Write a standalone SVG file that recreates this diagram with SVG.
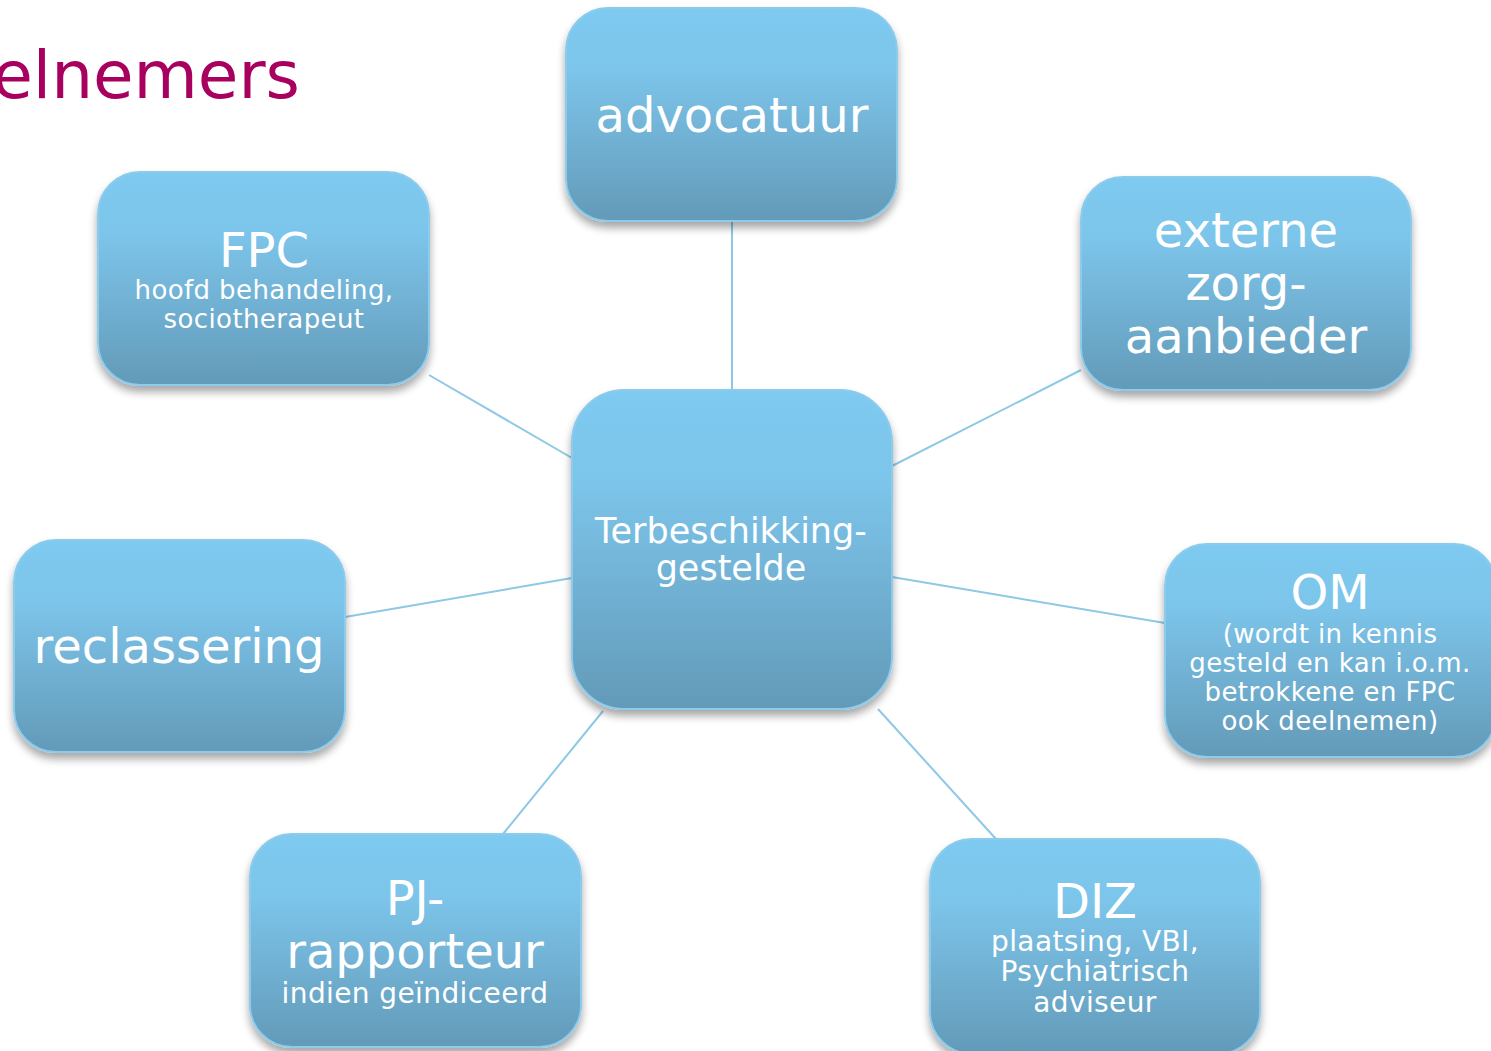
<svg xmlns="http://www.w3.org/2000/svg" width="1491" height="1051" viewBox="0 0 1491 1051">
<defs>
<linearGradient id="g" x1="0" y1="0" x2="0" y2="1">
<stop offset="0" stop-color="#7ecaf0"/>
<stop offset="0.3" stop-color="#7cc4ea"/>
<stop offset="1" stop-color="#639ab8"/>
</linearGradient>
<filter id="sh" x="-10%" y="-10%" width="120%" height="125%">
<feGaussianBlur in="SourceAlpha" stdDeviation="4"/>
<feOffset dx="0" dy="6" result="b"/>
<feComponentTransfer><feFuncA type="linear" slope="0.35"/></feComponentTransfer>
<feMerge><feMergeNode/><feMergeNode in="SourceGraphic"/></feMerge>
</filter>
</defs>
<style>
.box{fill:url(#g);stroke:#8ccbec;stroke-width:2;filter:url(#sh)}
.t{font-family:"DejaVu Sans","Liberation Sans",sans-serif;fill:#ffffff;text-anchor:middle}
.big{font-size:48px}
.mid{font-size:35px}
.sm{font-size:26px;letter-spacing:0.4px}
.sm2{font-size:28px;letter-spacing:0.4px}
.ln{stroke:#8ec8e6;stroke-width:2;fill:none}
</style>
<rect width="1491" height="1051" fill="#ffffff"/>
<text x="300" y="98" font-family="DejaVu Sans, sans-serif" font-size="66" fill="#a8005f" text-anchor="end">elnemers</text>
<g id="connectors">
<line class="ln" x1="732" y1="221" x2="732" y2="392"/>
<line class="ln" x1="429" y1="375" x2="572" y2="458"/>
<line class="ln" x1="1081" y1="370" x2="892" y2="466"/>
<line class="ln" x1="345" y1="617" x2="572" y2="578"/>
<line class="ln" x1="892" y1="577" x2="1165" y2="623"/>
<line class="ln" x1="503" y1="834" x2="603" y2="711"/>
<line class="ln" x1="878" y1="709" x2="996" y2="839"/>
</g>
<g id="advocatuur">
<rect class="box" x="566" y="8" width="331" height="213" rx="42"/>
<text class="t big" x="732" y="132">advocatuur</text>
</g>
<g id="fpc">
<rect class="box" x="98" y="172" width="331" height="213" rx="42"/>
<text class="t big" x="264" y="267">FPC</text>
<text class="t sm" x="264" y="299">hoofd behandeling,</text>
<text class="t sm" x="264" y="328">sociotherapeut</text>
</g>
<g id="externe">
<rect class="box" x="1081" y="177" width="330" height="213" rx="42"/>
<text class="t big" x="1246" y="247">externe</text>
<text class="t big" x="1246" y="300">zorg-</text>
<text class="t big" x="1246" y="353">aanbieder</text>
</g>
<g id="center">
<rect class="box" x="572" y="390" width="320" height="319" rx="52"/>
<text class="t mid" x="731" y="543">Terbeschikking-</text>
<text class="t mid" x="731" y="580">gestelde</text>
</g>
<g id="reclassering">
<rect class="box" x="14" y="540" width="331" height="212" rx="42"/>
<text class="t big" x="179" y="663">reclassering</text>
</g>
<g id="om">
<rect class="box" x="1165" y="544" width="331" height="213" rx="42"/>
<text class="t big" x="1330" y="609">OM</text>
<text class="t sm" x="1330" y="643">(wordt in kennis</text>
<text class="t sm" x="1330" y="672">gesteld en kan i.o.m.</text>
<text class="t sm" x="1330" y="701">betrokkene en FPC</text>
<text class="t sm" x="1330" y="730">ook deelnemen)</text>
</g>
<g id="pj">
<rect class="box" x="250" y="834" width="331" height="213" rx="42"/>
<text class="t big" x="415" y="915">PJ-</text>
<text class="t big" x="415" y="968">rapporteur</text>
<text class="t sm2" x="415" y="1003">indien geïndiceerd</text>
</g>
<g id="diz">
<rect class="box" x="930" y="839" width="330" height="215" rx="42"/>
<text class="t big" x="1095" y="918">DIZ</text>
<text class="t sm2" x="1095" y="951">plaatsing, VBI,</text>
<text class="t sm2" x="1095" y="981">Psychiatrisch</text>
<text class="t sm2" x="1095" y="1012">adviseur</text>
</g>
</svg>
